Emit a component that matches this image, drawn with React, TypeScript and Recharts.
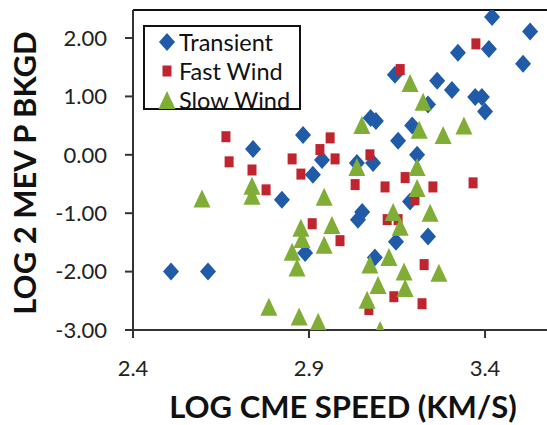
import {
  ScatterChart,
  Scatter,
  XAxis,
  YAxis,
  Legend,
  ReferenceLine,
} from "recharts";

// log CME speed (x) vs log 2 MeV proton background (y)
const transientSpeed = [
  2.508, 2.613, 2.741, 2.823, 2.883, 2.937, 2.911, 2.889, 3.075, 3.09, 3.036,
  3.082, 3.051, 3.039, 3.087, 3.144, 3.264, 3.306, 3.238, 3.193, 3.153, 3.207,
  3.187, 3.147, 3.238, 3.42, 3.528, 3.323, 3.411, 3.508, 3.372, 3.391, 3.4,
];
const transientBkgd = [
  -2.0, -2.0, 0.1, -0.77, 0.34, -0.09, -0.34, -1.68, 0.63, 0.58, -0.14, -0.14,
  -0.98, -1.11, -1.76, 1.37, 1.27, 1.11, 0.86, 0.5, 0.24, 0.0, -0.8, -1.49,
  -1.4, 2.36, 2.11, 1.75, 1.81, 1.56, 0.99, 0.99, 0.74,
];

const fastSpeed = [
  2.664, 2.673, 2.738, 2.778, 2.852, 2.877, 2.909, 2.931, 2.96, 2.974, 2.988,
  3.031, 3.073, 3.07, 3.116, 3.173, 3.201, 3.122, 3.153, 3.252, 3.366, 3.227,
  3.141, 3.221, 3.159, 3.374,
];
const fastBkgd = [
  0.31, -0.12, -0.26, -0.6, -0.07, -0.33, -1.18, 0.09, 0.29, -0.07, -1.47,
  -0.51, 0.0, -2.65, -0.55, -0.39, -0.77, -1.11, -1.11, -0.55, -0.48, -1.88,
  -2.43, -2.55, 1.46, 1.9,
];

const slowSpeed = [
  2.596, 2.738, 2.738, 2.786, 2.872, 2.926, 2.877, 2.88, 2.852, 2.866, 2.943,
  2.943, 2.965, 3.073, 3.065, 3.102, 3.05, 3.036, 3.187, 3.224, 3.213, 3.281,
  3.34, 3.207, 3.207, 3.139, 3.159, 3.244, 3.127, 3.17, 3.269, 3.096, 3.173,
];
const slowBkgd = [
  -0.75, -0.53, -0.7, -2.6, -2.77, -2.86, -1.25, -1.44, -1.66, -1.93, -0.72,
  -1.54, -1.2, -1.88, -2.48, -3.0, 0.51, -0.21, 1.23, 0.91, 0.43, 0.34, 0.5,
  -0.21, -0.57, -0.98, -1.23, -0.99, -1.75, -2.0, -2.02, -2.23, -2.28,
];

const xTicks = [2.4, 2.9, 3.4];
const yTicks = [-3, -2, -1, 0, 1, 2];

const BLUE = "#1f5ba9";
const RED = "#c0242f";
const GREEN = "#80ad36";
const FONT = "Lato, 'Open Sans', sans-serif";

const zip = (xs: number[], ys: number[]) => xs.map((x, i) => ({ x, y: ys[i] }));

const Diamond = ({ cx, cy }: any) => (
  <polygon
    points={`${cx},${cy - 9} ${cx + 8},${cy} ${cx},${cy + 9} ${cx - 8},${cy}`}
    fill={BLUE}
  />
);

const Square = ({ cx, cy }: any) => (
  <rect x={cx - 4.5} y={cy - 5.5} width={9} height={11} fill={RED} />
);

const Triangle = ({ cx, cy }: any) => (
  <polygon
    points={`${cx},${cy - 9} ${cx + 8.5},${cy + 9} ${cx - 8.5},${cy + 9}`}
    fill={GREEN}
  />
);

const legendRows = [
  { name: "Transient", Shape: Diamond, top: 15 },
  { name: "Fast Wind", Shape: Square, top: 44 },
  { name: "Slow Wind", Shape: Triangle, top: 73 },
];

const LegendBox = () => (
  <div
    style={{
      position: "relative",
      width: 158,
      height: 85,
      boxSizing: "border-box",
      border: "2px solid #111",
      background: "#fff",
    }}
  >
    {legendRows.map((r) => (
      <div
        key={r.name}
        style={{
          position: "absolute",
          left: 10,
          top: r.top - 14,
          height: 28,
          display: "flex",
          alignItems: "center",
          fontFamily: FONT,
          fontSize: 23.5,
          color: "#111",
          whiteSpace: "nowrap",
        }}
      >
        <svg width={24} height={28} style={{ display: "block" }}>
          <r.Shape cx={12} cy={14} />
        </svg>
        <span>{r.name}</span>
      </div>
    ))}
  </div>
);

const XTitle = () => (
  <text
    x={343}
    y={418}
    textAnchor="middle"
    fontFamily={FONT}
    fontWeight={700}
    fontSize={31}
    fill="#111"
  >
    LOG CME SPEED (KM/S)
  </text>
);

const YTitle = () => (
  <text
    x={36}
    y={173}
    transform="rotate(-90, 36, 173)"
    textAnchor="middle"
    fontFamily={FONT}
    fontWeight={700}
    fontSize={31}
    fill="#111"
  >
    LOG 2 MEV P BKGD
  </text>
);

export default function App() {
  return (
    <div style={{ width: 547, height: 425, overflow: "hidden", background: "#fff" }}>
      <style>{`body { margin: 0; }`}</style>
      <ScatterChart
        width={547}
        height={425}
        margin={{ top: 10, right: 0, bottom: 0, left: 0 }}
      >
        <XAxis
          type="number"
          dataKey="x"
          domain={[2.4, 3.576]}
          allowDataOverflow
          ticks={xTicks}
          tickFormatter={(v: number) => v.toFixed(1)}
          height={95}
          tickSize={8}
          tickMargin={22}
          stroke="#333"
          strokeWidth={2}
          tick={{ fill: "#222", fontSize: 22, fontFamily: FONT }}
          label={<XTitle />}
        />
        <YAxis
          type="number"
          dataKey="y"
          domain={[-3, 2.48]}
          allowDataOverflow
          ticks={yTicks}
          tickFormatter={(v: number) => v.toFixed(2)}
          width={133}
          tickSize={8}
          tickMargin={18}
          stroke="#333"
          strokeWidth={2}
          tick={{ fill: "#222", fontSize: 22, fontFamily: FONT }}
          label={<YTitle />}
        />
        <ReferenceLine y={2.48} stroke="#111" strokeWidth={2} />
        <Legend
          layout="horizontal"
          verticalAlign="middle"
          align="center"
          content={<LegendBox />}
          wrapperStyle={{ top: 25, left: 143, width: 158, height: 85 }}
        />
        <Scatter
          name="Transient"
          data={zip(transientSpeed, transientBkgd)}
          shape={<Diamond />}
          isAnimationActive={false}
        />
        <Scatter
          name="Fast Wind"
          data={zip(fastSpeed, fastBkgd)}
          shape={<Square />}
          isAnimationActive={false}
        />
        <Scatter
          name="Slow Wind"
          data={zip(slowSpeed, slowBkgd)}
          shape={<Triangle />}
          isAnimationActive={false}
        />
      </ScatterChart>
    </div>
  );
}
